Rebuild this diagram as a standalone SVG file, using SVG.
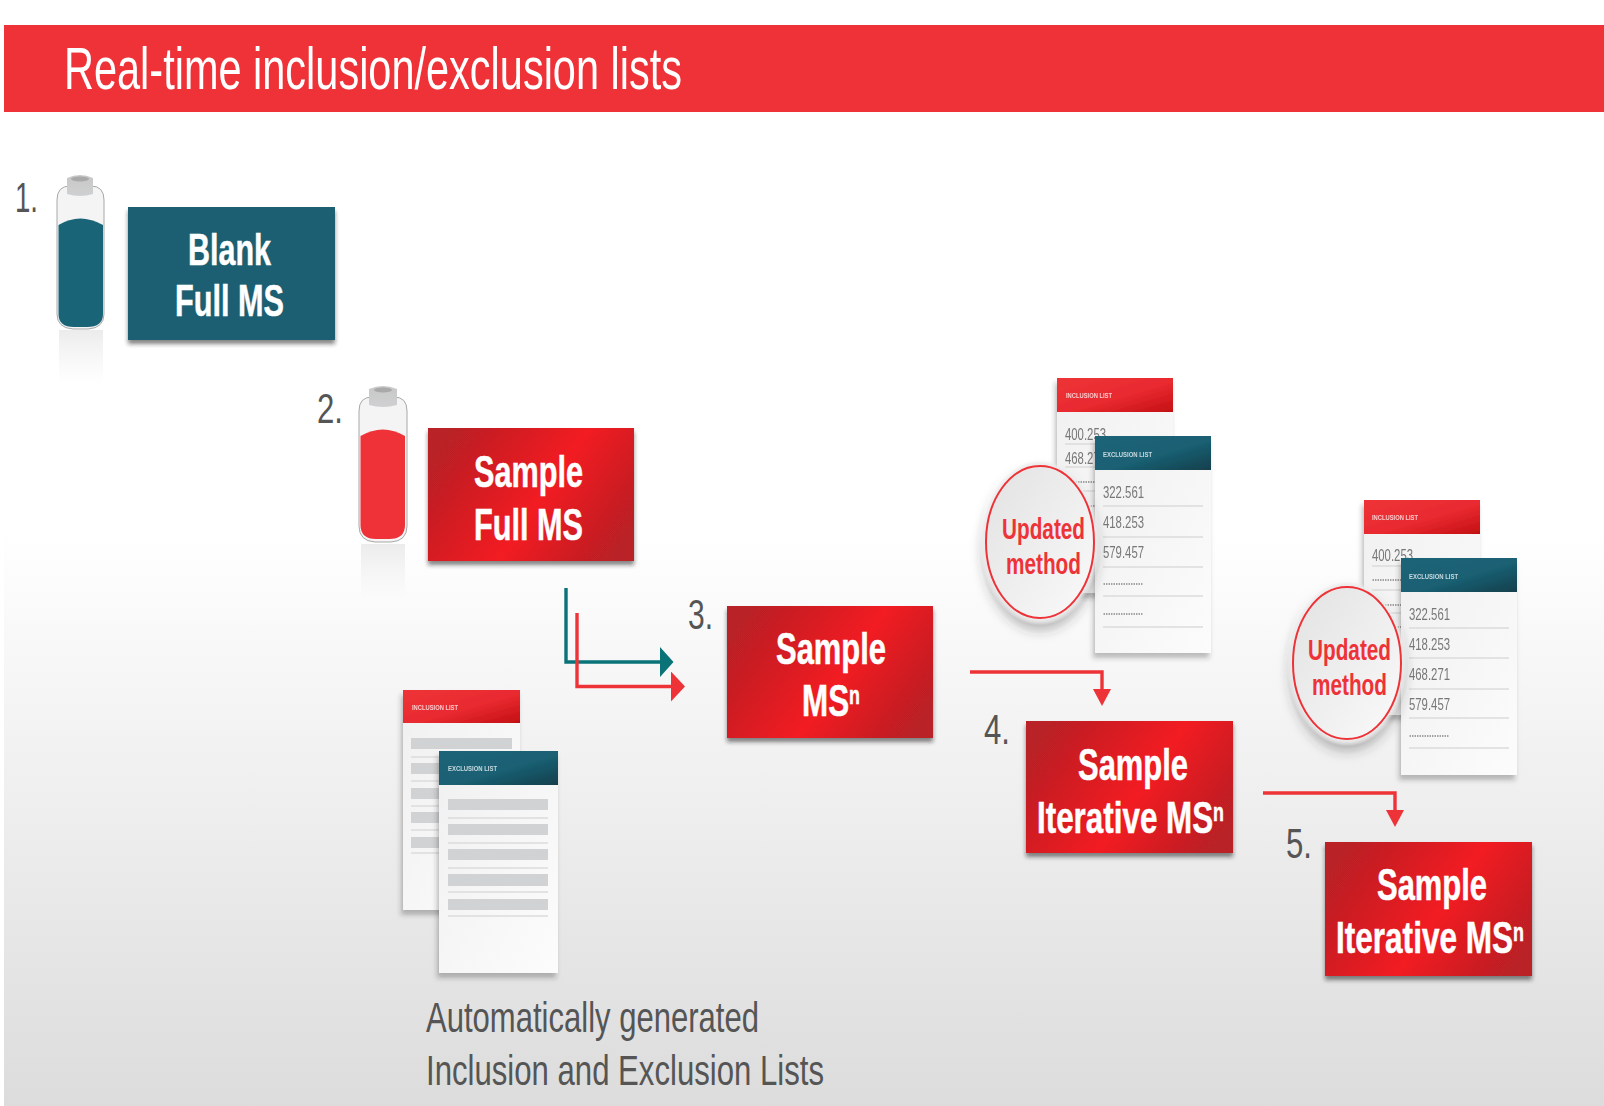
<svg xmlns="http://www.w3.org/2000/svg" width="1604" height="1106" viewBox="0 0 1604 1106">
<style>
text{font-family:"Liberation Sans",Arial,sans-serif}
.lbl{font-weight:700;font-size:44px;fill:#fff;stroke:#fff;stroke-width:.5}
.sup{font-size:25px}
.num{font-size:43px;fill:#555}
.cap{font-size:42px;fill:#555}
.hdr{font-size:8px;font-weight:700;fill:#fff;opacity:.75}
.val{font-size:16.500px;fill:#777}
.dots{font-size:12px;fill:#999;font-weight:700}
.upd{font-weight:700;font-size:30px;fill:#ee3338}
.rule{stroke:#dcdcdc;stroke-width:1.4;fill:none}
.bar{fill:#d1d2d4}
.glass{fill:#f4f4f4;stroke:#a8a8a8;stroke-width:1}
.conn{fill:none;stroke-width:3.4}
</style>
<defs>
<linearGradient id="bg" x1="0" y1="0" x2="0" y2="1"><stop offset="0" stop-color="#fff"/><stop offset=".42" stop-color="#fff"/><stop offset="1" stop-color="#dcdcdc"/></linearGradient>
<linearGradient id="redbox" x1="0" y1=".28" x2="1" y2=".72"><stop offset="0" stop-color="#b92025"/><stop offset=".55" stop-color="#f21c22"/><stop offset="1" stop-color="#b92025"/></linearGradient>
<linearGradient id="hred" x1="0" y1="0" x2="1" y2="1"><stop offset="0" stop-color="#ee3338"/><stop offset=".55" stop-color="#e92a2f"/><stop offset="1" stop-color="#c30f14"/></linearGradient>
<linearGradient id="hteal" x1="0" y1="0" x2="1" y2="1"><stop offset="0" stop-color="#1a6478"/><stop offset=".55" stop-color="#1a6073"/><stop offset="1" stop-color="#123f4c"/></linearGradient>
<linearGradient id="card" x1="0" y1="0" x2="1" y2="1"><stop offset="0" stop-color="#f0f0f1"/><stop offset="1" stop-color="#fcfcfc"/></linearGradient>
<linearGradient id="disc" x1="0" y1="0" x2="1" y2="1"><stop offset="0" stop-color="#e2e2e3"/><stop offset="1" stop-color="#fafafa"/></linearGradient>
<linearGradient id="refl" x1="0" y1="0" x2="0" y2="1"><stop offset="0" stop-color="#dcdcdc" stop-opacity=".55"/><stop offset="1" stop-color="#e8e8e8" stop-opacity="0"/></linearGradient>
<linearGradient id="capg" x1="0" y1="0" x2="0" y2="1"><stop offset="0" stop-color="#c8c8c8"/><stop offset="1" stop-color="#cfd0d1"/></linearGradient>
<filter id="boxsh" x="-10%" y="-10%" width="120%" height="125%"><feDropShadow dx="0" dy="4" stdDeviation="2" flood-color="#222" flood-opacity=".55"/></filter>
<filter id="cardsh" x="-15%" y="-10%" width="130%" height="125%"><feGaussianBlur in="SourceGraphic" stdDeviation=".7" result="s"/><feDropShadow in="s" dx="-2" dy="5" stdDeviation="2.500" flood-color="#333" flood-opacity=".3"/></filter>
<filter id="discsh" x="-30%" y="-30%" width="160%" height="160%"><feGaussianBlur in="SourceGraphic" stdDeviation="1.500" result="s"/><feDropShadow in="s" dx="0" dy="8" stdDeviation="6" flood-color="#333" flood-opacity=".35"/></filter>
<marker id="aTeal" markerUnits="userSpaceOnUse" markerWidth="14" markerHeight="30" refX="0" refY="15" orient="auto"><path d="M0,0L13.500,15L0,30z" fill="#0a7378"/></marker>
<marker id="aRed" markerUnits="userSpaceOnUse" markerWidth="15" markerHeight="30" refX="0" refY="15" orient="auto"><path d="M0,0L14,15L0,30z" fill="#ee3338"/></marker>
<marker id="aDown" markerUnits="userSpaceOnUse" markerWidth="17" markerHeight="18" refX="0" refY="9" orient="auto"><path d="M0,0L17,9L0,18z" fill="#ee3338"/></marker>
</defs>

<rect x="4" y="112" width="1600" height="994" fill="url(#bg)"/>

<g id="title">
<rect x="4" y="25" width="1600" height="87" fill="#ef3238"/>
<text x="64" y="89" font-size="60" fill="#fff" textLength="618" lengthAdjust="spacingAndGlyphs">Real-time inclusion/exclusion lists</text>
</g>

<g id="connectors">
<path class="conn" stroke="#0a7378" d="M566,588V662H660" marker-end="url(#aTeal)"/>
<path class="conn" stroke="#ee3338" d="M577,613V686.500H671" marker-end="url(#aRed)"/>
<path class="conn" stroke="#ee3338" d="M970,672H1102V689" marker-end="url(#aDown)"/>
<path class="conn" stroke="#ee3338" d="M1263,793H1395V810" marker-end="url(#aDown)"/>
</g>

<g id="step1">
<text class="num" x="15" y="212" textLength="23" lengthAdjust="spacingAndGlyphs">1.</text>
<rect x="59" y="330" width="44" height="55" fill="url(#refl)"/>
<path class="glass" d="M57,200Q57,186 70,186H91Q104,186 104,200V314Q104,328 88,329H73Q57,328 57,314z"/>
<path d="M58.500,225Q80,212 103,225V314Q103,327 87,327H74Q58.500,327 58.500,314z" fill="#1a6478"/>
<path d="M67,178Q80,172 93,178V194Q80,198 67,194z" fill="url(#capg)"/>
<ellipse cx="80" cy="179" rx="9" ry="2.500" fill="#a9a9a9"/>
<rect x="128" y="207" width="207" height="133" fill="#1a5f72" filter="url(#boxsh)"/>
<text class="lbl" x="188" y="265" textLength="83" lengthAdjust="spacingAndGlyphs">Blank</text>
<text class="lbl" x="175" y="316" textLength="109" lengthAdjust="spacingAndGlyphs">Full MS</text>
</g>

<g id="step2">
<text class="num" x="317" y="423" textLength="26" lengthAdjust="spacingAndGlyphs">2.</text>
<rect x="361" y="544" width="44" height="55" fill="url(#refl)"/>
<path class="glass" d="M359,411Q359,397 372,397H394Q407,397 407,411V526Q407,541 391,542H375Q359,541 359,526z"/>
<path d="M360.500,436Q383,423 405,436V525Q405,539 389,539H376Q360.500,539 360.500,525z" fill="#ef3238"/>
<path d="M369,389Q383,383 397,389V405Q383,409 369,405z" fill="url(#capg)"/>
<ellipse cx="383" cy="390" rx="9" ry="2.500" fill="#a9a9a9"/>
<rect x="428" y="428" width="206" height="133" fill="url(#redbox)" filter="url(#boxsh)"/>
<text class="lbl" x="474" y="487" textLength="109" lengthAdjust="spacingAndGlyphs">Sample</text>
<text class="lbl" x="474" y="540" textLength="109" lengthAdjust="spacingAndGlyphs">Full MS</text>
</g>

<g id="generated-lists">
<g filter="url(#cardsh)">
<rect x="403" y="690" width="117" height="220" fill="url(#card)"/>
<rect x="403" y="690" width="117" height="33" fill="url(#hred)"/>
<text class="hdr" x="412" y="710" textLength="46" lengthAdjust="spacingAndGlyphs">INCLUSION LIST</text>
<rect class="bar" x="411" y="738" width="101" height="11"/>
<rect class="bar" x="411" y="763" width="101" height="11"/>
<rect class="bar" x="411" y="788" width="101" height="11"/>
<rect class="bar" x="411" y="812" width="101" height="11"/>
<rect class="bar" x="411" y="837" width="101" height="11"/>
<path class="rule" d="M411,757H512M411,781H512M411,806H512M411,830H512M411,853H512"/>
</g>
<g filter="url(#cardsh)">
<rect x="439" y="751" width="119" height="222" fill="url(#card)"/>
<rect x="439" y="751" width="119" height="34" fill="url(#hteal)"/>
<text class="hdr" x="448" y="771" textLength="49" lengthAdjust="spacingAndGlyphs">EXCLUSION LIST</text>
<rect class="bar" x="448" y="799" width="100" height="11"/>
<rect class="bar" x="448" y="824" width="100" height="11"/>
<rect class="bar" x="448" y="849" width="100" height="11"/>
<rect class="bar" x="448" y="874" width="100" height="12"/>
<rect class="bar" x="448" y="899" width="100" height="11"/>
<path class="rule" d="M448,818H548M448,843H548M448,868H548M448,892H548M448,916H548"/>
</g>
<text class="cap" x="426" y="1032" textLength="333" lengthAdjust="spacingAndGlyphs">Automatically generated</text>
<text class="cap" x="426" y="1085" textLength="398" lengthAdjust="spacingAndGlyphs">Inclusion and Exclusion Lists</text>
</g>

<g id="step3">
<text class="num" x="688" y="629" textLength="25" lengthAdjust="spacingAndGlyphs">3.</text>
<rect x="727" y="606" width="206" height="132" fill="url(#redbox)" filter="url(#boxsh)"/>
<text class="lbl" x="776" y="664" textLength="110" lengthAdjust="spacingAndGlyphs">Sample</text>
<text class="lbl" x="802" y="716" textLength="58" lengthAdjust="spacingAndGlyphs">MS<tspan class="sup" dy="-12">n</tspan></text>
</g>

<g id="lists-update-1">
<g filter="url(#cardsh)">
<rect x="1057" y="378" width="116" height="215" fill="url(#card)"/>
<rect x="1057" y="378" width="116" height="34" fill="url(#hred)"/>
<text class="hdr" x="1066" y="398" textLength="46" lengthAdjust="spacingAndGlyphs">INCLUSION LIST</text>
<text class="val" x="1065" y="440" textLength="41" lengthAdjust="spacingAndGlyphs">400.253</text>
<text class="val" x="1065" y="464" textLength="41" lengthAdjust="spacingAndGlyphs">468.271</text>
<text class="dots" x="1065" y="483" textLength="40" lengthAdjust="spacingAndGlyphs">................</text>
<text class="dots" x="1065" y="507" textLength="40" lengthAdjust="spacingAndGlyphs">................</text>
<path class="rule" d="M1065,444H1165M1065,467H1165M1065,491H1165"/>
</g>
<g filter="url(#cardsh)">
<rect x="1095" y="436" width="116" height="217" fill="url(#card)"/>
<rect x="1095" y="436" width="116" height="34" fill="url(#hteal)"/>
<text class="hdr" x="1103" y="457" textLength="49" lengthAdjust="spacingAndGlyphs">EXCLUSION LIST</text>
<text class="val" x="1103" y="498" textLength="41" lengthAdjust="spacingAndGlyphs">322.561</text>
<text class="val" x="1103" y="528" textLength="41" lengthAdjust="spacingAndGlyphs">418.253</text>
<text class="val" x="1103" y="558" textLength="41" lengthAdjust="spacingAndGlyphs">579.457</text>
<text class="dots" x="1103" y="585" textLength="40" lengthAdjust="spacingAndGlyphs">................</text>
<text class="dots" x="1103" y="615" textLength="40" lengthAdjust="spacingAndGlyphs">................</text>
<path class="rule" d="M1103,506H1203M1103,537H1203M1103,567H1203M1103,596H1203M1103,627H1203"/>
</g>
<g id="updated-1">
<ellipse cx="1040" cy="542" rx="57" ry="80" fill="#ececec" filter="url(#discsh)"/>
<ellipse cx="1040" cy="542" rx="54" ry="76" fill="url(#disc)" stroke="#ee3338" stroke-width="2"/>
<text class="upd" x="1002" y="539" textLength="83" lengthAdjust="spacingAndGlyphs">Updated</text>
<text class="upd" x="1006" y="574" textLength="75" lengthAdjust="spacingAndGlyphs">method</text>
</g>
</g>

<g id="step4">
<text class="num" x="984" y="744" textLength="26" lengthAdjust="spacingAndGlyphs">4.</text>
<rect x="1026" y="721" width="207" height="132" fill="url(#redbox)" filter="url(#boxsh)"/>
<text class="lbl" x="1078" y="780" textLength="110" lengthAdjust="spacingAndGlyphs">Sample</text>
<text class="lbl" x="1037" y="833" textLength="187" lengthAdjust="spacingAndGlyphs">Iterative MS<tspan class="sup" dy="-12">n</tspan></text>
</g>

<g id="lists-update-2">
<g filter="url(#cardsh)">
<rect x="1364" y="500" width="116" height="215" fill="url(#card)"/>
<rect x="1364" y="500" width="116" height="34" fill="url(#hred)"/>
<text class="hdr" x="1372" y="520" textLength="46" lengthAdjust="spacingAndGlyphs">INCLUSION LIST</text>
<text class="val" x="1372" y="561" textLength="41" lengthAdjust="spacingAndGlyphs">400.253</text>
<text class="dots" x="1372" y="581" textLength="40" lengthAdjust="spacingAndGlyphs">................</text>
<text class="dots" x="1372" y="606" textLength="40" lengthAdjust="spacingAndGlyphs">................</text>
<text class="dots" x="1372" y="628" textLength="40" lengthAdjust="spacingAndGlyphs">................</text>
<path class="rule" d="M1372,566H1472M1372,590H1472M1372,613H1472"/>
</g>
<g filter="url(#cardsh)">
<rect x="1401" y="558" width="116" height="217" fill="url(#card)"/>
<rect x="1401" y="558" width="116" height="34" fill="url(#hteal)"/>
<text class="hdr" x="1409" y="579" textLength="49" lengthAdjust="spacingAndGlyphs">EXCLUSION LIST</text>
<text class="val" x="1409" y="620" textLength="41" lengthAdjust="spacingAndGlyphs">322.561</text>
<text class="val" x="1409" y="650" textLength="41" lengthAdjust="spacingAndGlyphs">418.253</text>
<text class="val" x="1409" y="680" textLength="41" lengthAdjust="spacingAndGlyphs">468.271</text>
<text class="val" x="1409" y="710" textLength="41" lengthAdjust="spacingAndGlyphs">579.457</text>
<text class="dots" x="1409" y="737" textLength="40" lengthAdjust="spacingAndGlyphs">................</text>
<path class="rule" d="M1409,628H1509M1409,658H1509M1409,689H1509M1409,718H1509M1409,748H1509"/>
</g>
<g id="updated-2">
<ellipse cx="1347" cy="663" rx="57" ry="80" fill="#ececec" filter="url(#discsh)"/>
<ellipse cx="1347" cy="663" rx="54" ry="76" fill="url(#disc)" stroke="#ee3338" stroke-width="2"/>
<text class="upd" x="1308" y="660" textLength="83" lengthAdjust="spacingAndGlyphs">Updated</text>
<text class="upd" x="1312" y="695" textLength="75" lengthAdjust="spacingAndGlyphs">method</text>
</g>
</g>

<g id="step5">
<text class="num" x="1286" y="858" textLength="26" lengthAdjust="spacingAndGlyphs">5.</text>
<rect x="1325" y="842" width="207" height="134" fill="url(#redbox)" filter="url(#boxsh)"/>
<text class="lbl" x="1377" y="900" textLength="110" lengthAdjust="spacingAndGlyphs">Sample</text>
<text class="lbl" x="1336" y="953" textLength="188" lengthAdjust="spacingAndGlyphs">Iterative MS<tspan class="sup" dy="-12">n</tspan></text>
</g>
</svg>
